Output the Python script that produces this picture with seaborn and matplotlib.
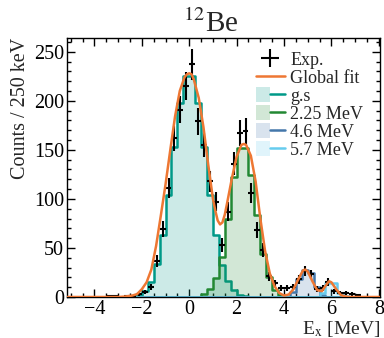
"""
12Be excitation spectrum with the fitted components.
"""
import numpy as np
import pandas as pd
import matplotlib
matplotlib.use('Agg')
import matplotlib.pyplot as plt
import seaborn as sns
from matplotlib.patches import Patch
from matplotlib.lines import Line2D
from matplotlib.legend_handler import HandlerTuple
from matplotlib.ticker import MultipleLocator

# measured counts per 250 keV bin (bin centres)
exp_x = [-3.375, -3.125, -2.625, -2.375, -2.125, -1.875, -1.625, -1.375,
         -1.125, -0.875, -0.625, -0.375, -0.125, 0.125, 0.375, 0.625,
         0.875, 1.125, 1.375, 1.625, 1.875, 2.125, 2.375, 2.625, 2.875,
         3.125, 3.375, 3.625, 3.875, 4.125, 4.375, 4.625, 4.875, 5.125,
         5.375, 5.625, 5.875, 6.125, 6.375, 6.625, 6.875, 7.125]
exp_y = [1, 1, 1, 1, 3, 5, 10, 37, 69, 111, 162, 191, 215, 237, 179, 155,
         118, 97, 53, 87, 136, 167, 169, 106, 68, 48, 21, 14, 9, 9, 10, 18,
         26, 23, 8, 9, 15, 6, 4, 4, 3, 2]

# global fit curve
fit_x = [-5.2, -3.0, -2.7, -2.4, -2.2, -2.0, -1.8, -1.6, -1.4, -1.2, -1.0,
         -0.8, -0.6, -0.4, -0.2, -0.1, 0.0, 0.1, 0.2, 0.4, 0.6, 0.8, 1.0,
         1.1, 1.2, 1.3, 1.4, 1.5, 1.6, 1.8, 2.0, 2.2, 2.3, 2.4, 2.6, 2.8,
         3.0, 3.2, 3.4, 3.6, 3.8, 4.0, 4.2, 4.4, 4.6, 4.8, 4.9, 5.0, 5.2,
         5.4, 5.6, 5.8, 5.9, 6.0, 6.2, 6.4, 6.6, 6.8, 8.1]
fit_y = [0, 0, 0.5, 1.5, 3, 8, 15, 28, 52, 83, 115, 150, 184, 210, 224,
         227, 228, 227, 221, 203, 173, 135, 100, 88, 78, 74, 76, 84, 96,
         121, 143, 155, 156, 155, 144, 118, 80, 47, 24, 11, 4, 1.5, 2.5, 8,
         18, 27, 28, 26, 16, 7, 6, 13, 16, 15, 8, 2, 0.5, 0, 0]

# fitted components, binned (first bin lower edge, counts per bin)
gs_lo = -2.5
gs_counts = [1, 2, 6, 15, 34, 63, 104, 153, 198, 225, 225, 198, 153, 104,
             63, 33, 16, 7, 2, 1]
s225_lo = 0.5
s225_counts = [3, 8, 19, 41, 80, 122, 152, 152, 124, 84, 44, 20, 7, 2]
s46_lo = 4.25
s46_counts = [5, 18, 28, 24, 10, 2]
s57_lo = 5.5
s57_counts = [4, 14, 14, 4, 1]

labels = ['g.s', '2.25 MeV', '4.6 MeV', '5.7 MeV']
colors = ['#009988', '#228833', '#4477AA', '#66CCEE']
fit_color = '#EE7733'

BW = 0.25
edges = np.arange(-5.25, 8.25 + 1e-9, BW)
centers = edges[:-1] + BW / 2


def component_df(lo, counts):
    w = np.zeros(len(centers))
    i0 = int(round((lo - edges[0]) / BW))
    w[i0:i0 + len(counts)] = counts
    return pd.DataFrame({'E': centers, 'w': w})


sns.set_theme(style='ticks')
plt.rcParams['font.family'] = ['Liberation Serif', 'DejaVu Serif']
plt.rcParams['mathtext.fontset'] = 'stix'
plt.rcParams['axes.edgecolor'] = 'black'
plt.rcParams['axes.linewidth'] = 1.0
plt.rcParams['xtick.color'] = 'black'
plt.rcParams['ytick.color'] = 'black'

fig = plt.figure(figsize=(3.84, 3.38), dpi=100)
ax = fig.add_axes([0.1745, 0.1213, 0.815, 0.7663])

comps = [(gs_lo, gs_counts), (s225_lo, s225_counts),
         (s46_lo, s46_counts), (s57_lo, s57_counts)]
for (lo, counts), c in zip(comps, colors):
    sns.histplot(data=component_df(lo, counts), x='E', weights='w',
                 bins=list(edges), element='step', fill=True, color=c,
                 alpha=0.2, linewidth=1.8, ax=ax)

eb = ax.errorbar(exp_x, exp_y, yerr=np.sqrt(exp_y), xerr=BW / 2, fmt='none',
                 ecolor='black', elinewidth=1.5, capsize=0, zorder=4)
sns.lineplot(x=fit_x, y=fit_y, color=fit_color, lw=1.8, ax=ax, zorder=5)

ax.set_xlim(-5.16, 8.05)
ax.set_ylim(0, 264)
ax.xaxis.set_major_locator(MultipleLocator(2))
ax.xaxis.set_minor_locator(MultipleLocator(0.5))
ax.yaxis.set_major_locator(MultipleLocator(50))
ax.yaxis.set_minor_locator(MultipleLocator(10))
ax.tick_params(which='both', direction='in', top=True, right=True,
               labelsize=14.5)
ax.tick_params(axis='x', pad=2)
ax.tick_params(axis='y', pad=2)
ax.tick_params(which='major', length=6, width=1)
ax.tick_params(which='minor', length=3, width=1)

ax.set_xlabel(r'E$_{\rm x}$ [MeV]', loc='right', fontsize=14, labelpad=0)
ax.set_ylabel('Counts / 250 keV', loc='top', fontsize=14.5, labelpad=3)
ax.set_title(r'$^{12}$Be', fontsize=21, pad=2, x=0.46)

handles = [eb, Line2D([], [], color=fit_color, lw=1.8)]
for c in colors:
    handles.append((Patch(facecolor=c, alpha=0.2, edgecolor='none'),
                    Line2D([], [], color=c, lw=1.8)))
ax.legend(handles, ['Exp.', 'Global fit'] + labels, loc='upper right',
          bbox_to_anchor=(0.975, 0.985), frameon=False, fontsize=13,
          handlelength=1.6, handleheight=0.9, handletextpad=0.3,
          labelspacing=0.02, borderpad=0,
          handler_map={tuple: HandlerTuple(ndivide=None)})

fig.savefig('out.png', dpi=100)
